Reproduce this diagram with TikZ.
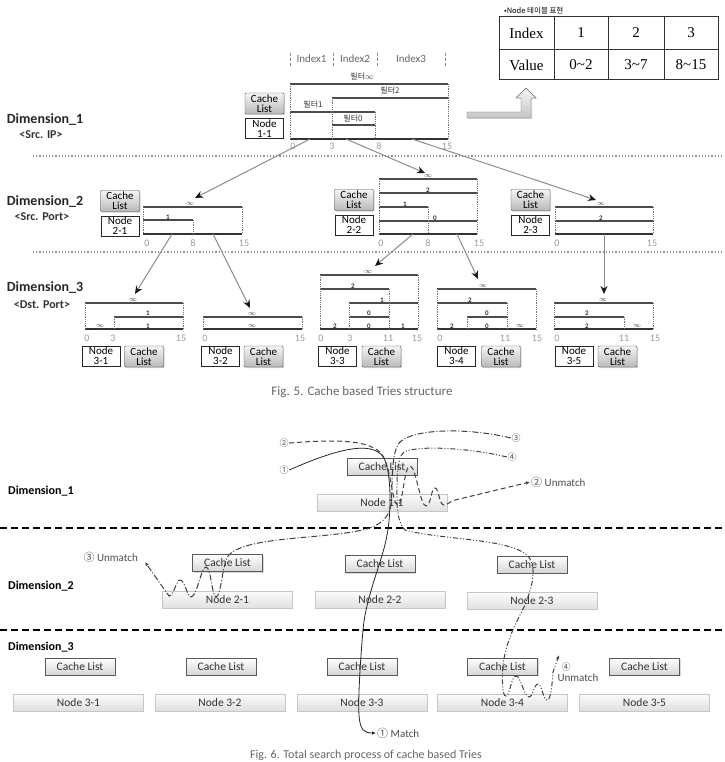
\documentclass[tikz,border=0pt]{standalone}
\usepackage{fontspec}
\setmainfont{Carlito}
\newfontfamily\krfont{Noto Sans CJK KR}
\newfontfamily\tblfont{Liberation Serif}
\usetikzlibrary{arrows.meta,positioning,calc,shadows}

\tikzset{
  dimlab/.style={font=\bfseries\fontsize{14}{14}\selectfont, text=black!85, inner sep=0pt},
  sublab/.style={font=\bfseries\fontsize{12}{12}\selectfont, text=black!80, inner sep=0pt},
  cachetop/.style={draw=black!70, rounded corners=1pt, top color=gray!8, bottom color=gray!55,
    minimum width=39pt, minimum height=21pt, inner sep=0pt, align=center,
    font=\fontsize{11}{10}\selectfont,
    drop shadow={shadow xshift=1pt,shadow yshift=-1pt,opacity=.35}},
  nodetop/.style={draw=black!85, line width=.8pt, fill=white, minimum width=38pt,
    minimum height=20pt, inner sep=0pt, align=center, font=\fontsize{11}{10}\selectfont},
  cachebot/.style={draw=black!65, top color=white, bottom color=gray!32, minimum width=70pt,
    minimum height=17pt, inner sep=0pt, font=\fontsize{11.5}{11.5}\selectfont, text=black!80,
    drop shadow={shadow xshift=1pt,shadow yshift=-1pt,opacity=.3}},
  nodebot/.style={draw=gray!45, top color=gray!3, bottom color=gray!25, minimum width=130pt,
    minimum height=17pt, inner sep=0pt, font=\fontsize{11.5}{11.5}\selectfont, text=black!80,
    drop shadow={shadow xshift=.8pt,shadow yshift=-.8pt,opacity=.25}},
  cell/.style={font=\tblfont\fontsize{15}{15}\selectfont, inner sep=0pt},
  circ/.style={font=\krfont\fontsize{9}{9}\selectfont, text=black!70, inner sep=.5pt},
  note/.style={font=\fontsize{11}{11}\selectfont, text=black!70, inner sep=1pt},
  tip/.style={-{Latex[length=4pt,width=3.5pt]}}
}

\begin{document}
\begin{tikzpicture}[x=1pt,y=-1pt,
  lvl/.style={line width=1.1pt, black!70},
  floor/.style={line width=1.9pt, black!80},
  vsep/.style={densely dotted, line width=.8pt, black!55},
  dimsep/.style={dotted, line width=1.2pt, black!45},
  flab/.style={font=\krfont\fontsize{8}{8}\selectfont, inner sep=0pt, text=black!80},
  num/.style={font=\bfseries\fontsize{7}{7}\selectfont, inner sep=0pt, text=black!80},
  axlab/.style={font=\fontsize{10}{10}\selectfont, inner sep=0pt, text=black!40},
  idx/.style={font=\fontsize{11}{11}\selectfont, inner sep=0pt, text=black!60},
  triearr/.style={draw=black!45, line width=1pt, -{Stealth[length=8pt,width=7pt,color=black!90]}},
  cutline/.style={line width=1.6pt, black, dash pattern=on 7pt off 4pt},
  p1/.style={line width=.8pt, black!85},
  p2/.style={line width=1pt, black!75, dash pattern=on 5pt off 3pt},
  p3/.style={line width=1pt, black!75, dash pattern=on 6pt off 2pt on 1pt off 2pt},
  p4/.style={line width=1pt, black!75, dash pattern=on 5pt off 2pt on 1pt off 2pt on 1pt off 2pt}]

\useasboundingbox (0,0) rectangle (724,762);

%%%%% Fig. 5 : table and block arrow
\node[font=\krfont\fontsize{7.5}{7.5}\selectfont, anchor=west, inner sep=0pt] (tbltitle) at (504,11) {•Node 테이블 표현};
\draw[line width=1pt, black!80] (499,17) rectangle (718,80);
\draw[line width=.8pt, black!80] (499,49) -- (718,49);
\draw[line width=.8pt, black!80] (554,17) -- (554,80) (608,17) -- (608,80) (664,17) -- (664,80);
\node[cell] (tidx) at (526.5,33) {Index};
\node[cell] (tone) at (581,33) {1};
\node[cell] (ttwo) at (636,33) {2};
\node[cell] (tthree) at (691,33) {3};
\node[cell] (tval) at (526.5,65) {Value};
\node[cell] (vone) at (581,65) {0\textasciitilde 2};
\node[cell] (vtwo) at (636,65) {3\textasciitilde 7};
\node[cell] (vthree) at (691,65) {8\textasciitilde 15};

\draw[black!60, top color=gray!8, bottom color=gray!45,
  drop shadow={shadow xshift=1pt,shadow yshift=-1pt,opacity=.3}]
  (467,112) -- (521,112) -- (521,98) -- (516,98) -- (526,88) -- (536,98) -- (531,98)
  -- (531,118) -- (467,118) -- cycle;

%%%%% Fig. 5 : index header
\node[idx] (ix1) at (311.5,59) {Index1};
\node[idx] (ix2) at (355,59) {Index2};
\node[idx] (ix3) at (411,59) {Index3};
\draw[densely dashed, black!45] (290,53) -- (290,66) (333,53) -- (333,66)
  (377,53) -- (377,66) (445,53) -- (445,66);

%%%%% Dimension_1
\node[dimlab] (dim1) at (45,120) {Dimension\_1};
\node[sublab] (dim1s) at (41,135) {<Src. IP>};
\node[cachetop] (c11) at (264.5,103.5) {Cache\\List};
\node[nodetop] (n11t) at (264.5,128.5) {Node\\1-1};

\draw[lvl] (290,84) -- (448,84) (332,98) -- (448,98) (290,112) -- (375,112) (332,125) -- (375,125);
\draw[floor] (290,139) -- (448,139);
\draw[vsep] (290,84) -- (290,139) (448,84) -- (448,139) (332,98) -- (332,139) (375,112) -- (375,139);
\node[flab] (f11a) at (362,77) {필터$\infty$};
\node[flab] (f11b) at (390,91) {필터2};
\node[flab] (f11c) at (313,105) {필터1};
\node[flab] (f11d) at (353,118.5) {필터0};
\node[axlab] (x11a) at (293,146) {0};
\node[axlab] (x11b) at (332,146) {3};
\node[axlab] (x11c) at (379,146) {8};
\node[axlab] (x11d) at (447,146) {15};

\draw[dimsep] (33,156) -- (724,156);

%%%%% Dimension_2
\node[dimlab] (dim2) at (45,202) {Dimension\_2};
\node[sublab] (dim2s) at (42,217) {<Src. Port>};

\node[cachetop] (c21) at (120,201) {Cache\\List};
\node[nodetop] (n21t) at (120,226) {Node\\2-1};
\draw[lvl] (143,207) -- (242,207) (143,220) -- (193,220);
\draw[floor] (143,234) -- (242,234);
\draw[vsep] (143,207) -- (143,234) (242,207) -- (242,234) (193,220) -- (193,234);
\node[num] (l21a) at (190,204) {$\infty$};
\node[num] (l21b) at (168,217) {1};
\node[axlab] (x21a) at (147,243) {0};
\node[axlab] (x21b) at (193,243) {8};
\node[axlab] (x21c) at (244,243) {15};

\node[cachetop] (c22) at (354,200) {Cache\\List};
\node[nodetop] (n22t) at (354,225) {Node\\2-2};
\draw[lvl] (379,179) -- (477,179) (379,193) -- (477,193) (379,207) -- (428,207) (379,221) -- (477,221);
\draw[floor] (379,234) -- (477,234);
\draw[vsep] (379,179) -- (379,234) (477,179) -- (477,234) (428,207) -- (428,234);
\node[num] (l22a) at (428,176) {$\infty$};
\node[num] (l22b) at (428,190) {2};
\node[num] (l22c) at (405,204) {1};
\node[num] (l22d) at (435,218) {0};
\node[axlab] (x22a) at (381,243) {0};
\node[axlab] (x22b) at (428,243) {8};
\node[axlab] (x22c) at (479,243) {15};

\node[cachetop] (c23) at (530.5,200) {Cache\\List};
\node[nodetop] (n23t) at (530.5,225) {Node\\2-3};
\draw[lvl] (555,207) -- (653,207) (555,221) -- (653,221);
\draw[floor] (555,234) -- (653,234);
\draw[vsep] (555,207) -- (555,234) (653,207) -- (653,234);
\node[num] (l23a) at (601,204) {$\infty$};
\node[num] (l23b) at (601,218) {2};
\node[axlab] (x23a) at (557,243) {0};
\node[axlab] (x23b) at (652,243) {15};

\draw[dimsep] (33,252) -- (724,252);

%%%%% Dimension_3
\node[dimlab] (dim3) at (45,288) {Dimension\_3};
\node[sublab] (dim3s) at (42,305) {<Dst. Port>};

\draw[lvl] (85,303) -- (183,303) (114,317) -- (183,317);
\draw[floor] (85,329) -- (183,329);
\draw[vsep] (85,303) -- (85,329) (183,303) -- (183,329) (114,317) -- (114,329);
\node[num] (l31a) at (133,300) {$\infty$};
\node[num] (l31b) at (148,313.5) {1};
\node[num] (l31c) at (100,326) {$\infty$};
\node[num] (l31d) at (148,326) {1};
\node[axlab] (x31a) at (87,338) {0};
\node[axlab] (x31b) at (113,338) {3};
\node[axlab] (x31c) at (181,338) {15};
\node[nodetop] (n31t) at (101,356) {Node\\3-1};
\node[cachetop] (c31) at (144,356.5) {Cache\\List};

\draw[lvl] (203,317) -- (302,317);
\draw[floor] (203,329) -- (302,329);
\draw[vsep] (203,317) -- (203,329) (302,317) -- (302,329);
\node[num] (l32a) at (252,314) {$\infty$};
\node[num] (l32b) at (252,326) {$\infty$};
\node[axlab] (x32a) at (205,338) {0};
\node[axlab] (x32b) at (300,338) {15};
\node[nodetop] (n32t) at (220.5,356) {Node\\3-2};
\node[cachetop] (c32) at (263.5,356.5) {Cache\\List};

\draw[lvl] (320,275) -- (418,275) (320,289) -- (389,289) (349,303) -- (418,303) (349,317) -- (389,317);
\draw[floor] (320,329) -- (418,329);
\draw[vsep] (320,275) -- (320,329) (418,275) -- (418,329) (389,289) -- (389,329) (349,303) -- (349,329);
\node[num] (l33a) at (368,272) {$\infty$};
\node[num] (l33b) at (353,286) {2};
\node[num] (l33c) at (382,300) {1};
\node[num] (l33d) at (369,313.5) {0};
\node[num] (l33e) at (335,326) {2};
\node[num] (l33f) at (369,326) {0};
\node[num] (l33g) at (403,326) {1};
\node[axlab] (x33a) at (321,338) {0};
\node[axlab] (x33b) at (350,338) {3};
\node[axlab] (x33c) at (388,338) {11};
\node[axlab] (x33d) at (417,338) {15};
\node[nodetop] (n33t) at (337.5,356) {Node\\3-3};
\node[cachetop] (c33) at (381.5,356.5) {Cache\\List};

\draw[lvl] (437,289) -- (536,289) (437,303) -- (507,303) (467,317) -- (507,317);
\draw[floor] (437,329) -- (536,329);
\draw[vsep] (437,289) -- (437,329) (536,289) -- (536,329) (507,303) -- (507,329) (467,317) -- (467,329);
\node[num] (l34a) at (483,286) {$\infty$};
\node[num] (l34b) at (470,300) {2};
\node[num] (l34c) at (487,313.5) {0};
\node[num] (l34d) at (452,326) {2};
\node[num] (l34e) at (487,326) {0};
\node[num] (l34f) at (520,326) {$\infty$};
\node[axlab] (x34a) at (440,338) {0};
\node[axlab] (x34b) at (505,338) {11};
\node[axlab] (x34c) at (537,338) {15};
\node[nodetop] (n34t) at (456.5,356) {Node\\3-4};
\node[cachetop] (c34) at (501,356.5) {Cache\\List};

\draw[lvl] (554,303) -- (653,303) (554,317) -- (624,317);
\draw[floor] (554,329) -- (653,329);
\draw[vsep] (554,303) -- (554,329) (653,303) -- (653,329) (624,317) -- (624,329);
\node[num] (l35a) at (603,300) {$\infty$};
\node[num] (l35b) at (587,313.5) {2};
\node[num] (l35c) at (587,326) {2};
\node[num] (l35d) at (637,326) {$\infty$};
\node[axlab] (x35a) at (557,338) {0};
\node[axlab] (x35b) at (624,338) {11};
\node[axlab] (x35c) at (655,338) {15};
\node[nodetop] (n35t) at (574,356) {Node\\3-5};
\node[cachetop] (c35) at (617.5,356.5) {Cache\\List};

%%%%% Fig. 5 : trie links
\coordinate (o11a) at (310,139);
\coordinate (o11b) at (346,139);
\coordinate (o11c) at (412,139);
\coordinate (i21) at (195,198);
\coordinate (i22) at (425,173);
\coordinate (i23) at (596,200);
\coordinate (o21a) at (172,234);
\coordinate (o21b) at (213,234);
\coordinate (o22a) at (413,234);
\coordinate (o22b) at (457,234);
\coordinate (o23) at (604,234);
\coordinate (i31) at (135,294);
\coordinate (i32) at (250,308);
\coordinate (i33) at (375,266);
\coordinate (i34) at (478,279);
\coordinate (i35) at (604,294);
\draw[triearr] (o11a) -- (i21);
\draw[triearr] (o11b) -- (i22);
\draw[triearr] (o11c) -- (i23);
\draw[triearr] (o21a) -- (i31);
\draw[triearr] (o21b) -- (i32);
\draw[triearr] (o22a) -- (i33);
\draw[triearr] (o22b) -- (i34);
\draw[triearr] (o23) -- (i35);

\node[font=\fontsize{13}{13}\selectfont, text=black!60, inner sep=0pt] (cap5) at (362,392)
  {Fig. 5. Cache based Tries structure};

%%%%% Fig. 6
\draw[cutline] (0,528) -- (724,528);
\draw[cutline] (0,630) -- (724,630);

\node[font=\bfseries\fontsize{12}{12}\selectfont, anchor=west, inner sep=0pt] (bdim1) at (8,491) {Dimension\_1};
\node[font=\bfseries\fontsize{12}{12}\selectfont, anchor=west, inner sep=0pt] (bdim2) at (8,586) {Dimension\_2};
\node[font=\bfseries\fontsize{12}{12}\selectfont, anchor=west, inner sep=0pt] (bdim3) at (8,647) {Dimension\_3};

\node[cachebot] (cl1) at (382,466.5) {Cache List};
\node[nodebot] (nb11) at (382,503) {Node 1-1};

\node[cachebot] (cl21) at (227.5,563) {Cache List};
\node[nodebot] (nb21) at (227.5,600) {Node 2-1};
\node[cachebot] (cl22) at (380,564) {Cache List};
\node[nodebot] (nb22) at (380,600) {Node 2-2};
\node[cachebot] (cl23) at (532,564.5) {Cache List};
\node[nodebot] (nb23) at (532,601) {Node 2-3};

\node[cachebot] (cl31) at (80,666.5) {Cache List};
\node[cachebot] (cl32) at (221,666.5) {Cache List};
\node[cachebot] (cl33) at (362,666.5) {Cache List};
\node[cachebot] (cl34) at (502.5,666.5) {Cache List};
\node[cachebot] (cl35) at (644.5,666.5) {Cache List};
\node[nodebot] (nb31) at (78.5,702.5) {Node 3-1};
\node[nodebot] (nb32) at (220,702.5) {Node 3-2};
\node[nodebot] (nb33) at (362,702.5) {Node 3-3};
\node[nodebot] (nb34) at (502.5,702.5) {Node 3-4};
\node[nodebot] (nb35) at (644.5,702.5) {Node 3-5};

\node[circ] (q1) at (284,470) {①};
\node[circ] (q2) at (284,443) {②};
\node[circ] (q3) at (516,438) {③};
\node[circ] (q4) at (512,457) {④};
\node[note, anchor=west] (um2) at (530,482) {{\krfont ②} Unmatch};
\node[note, anchor=east] (um3) at (139,557) {{\krfont ③} Unmatch};
\node[circ] (um4a) at (566,667) {④};
\node[note] (um4b) at (578,678) {Unmatch};
\node[note, anchor=west] (m1) at (376,733) {{\krfont ①} Match};
\coordinate (e3) at (145,562);
\coordinate (e4) at (559,655);

% search paths
\draw[p1, tip] (q1.east) .. controls (330,452) and (372,438) .. (384,458)
  .. controls (392,475) and (391,515) .. (387,535) .. controls (383,560) and (366,595) .. (363,630)
  .. controls (360,665) and (358,700) .. (359,715) .. controls (360,730) and (364,733) .. (m1.west);
\draw[p2, tip] (q2.east) .. controls (330,440) and (372,438) .. (383,456)
  .. controls (392,472) and (392,505) .. (398,505) .. controls (403,505) and (404,466) .. (410,466)
  .. controls (416,466) and (420,506) .. (426,506) .. controls (431,506) and (431,488) .. (435,488)
  .. controls (439,488) and (439,505) .. (444,505) .. controls (448,505) and (450,501) .. (455,500)
  -- (um2.west);
\draw[p3, tip] (q3.west) .. controls (470,428) and (415,428) .. (400,442)
  .. controls (390,452) and (393,490) .. (391,505) .. controls (389,518) and (380,524) .. (370,528)
  .. controls (330,540) and (245,535) .. (228,556) .. controls (222,566) and (221,597) .. (216,597)
  .. controls (212,597) and (211,567) .. (206,567) .. controls (201,567) and (197,597) .. (191,597)
  .. controls (187,597) and (185,580) .. (180,580) .. controls (176,580) and (174,596) .. (169,596)
  -- (e3);
\draw[p4, tip] (q4.west) .. controls (470,448) and (418,445) .. (404,452)
  .. controls (396,458) and (397,485) .. (397,500) .. controls (397,515) and (400,525) .. (405,530)
  .. controls (440,540) and (510,538) .. (528,556) .. controls (540,570) and (528,600) .. (520,615)
  .. controls (512,630) and (505,648) .. (503,665) .. controls (502,680) and (502,696) .. (506,696)
  .. controls (510,696) and (511,676) .. (516,676) .. controls (521,676) and (524,697) .. (529,697)
  .. controls (533,697) and (534,684) .. (538,684) .. controls (542,684) and (543,700) .. (547,700)
  .. controls (551,700) and (552,685) .. (553,672) -- (e4);

\node[font=\fontsize{12}{12}\selectfont, text=black!60, inner sep=0pt] (cap6) at (366,755)
  {Fig. 6. Total search process of cache based Tries};

\end{tikzpicture}
\end{document}
